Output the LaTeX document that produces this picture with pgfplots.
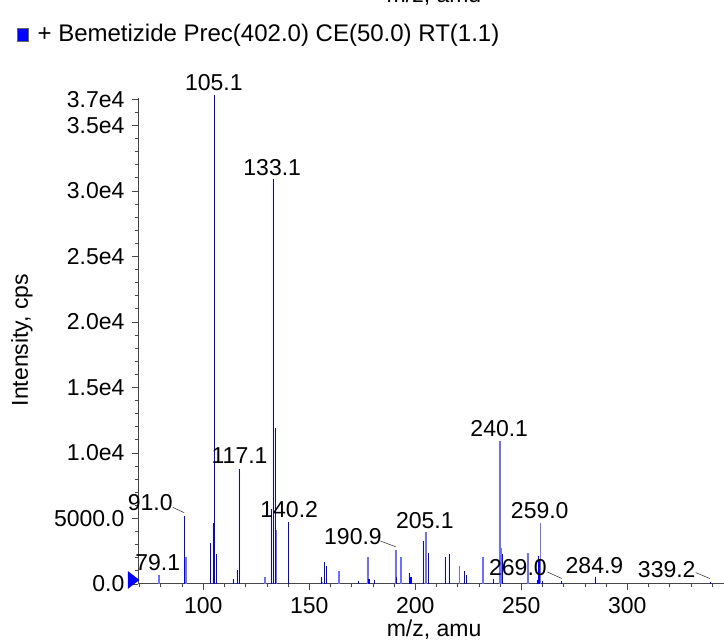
\documentclass[border=0pt]{standalone}
\usepackage{pgfplots}
\pgfplotsset{compat=1.18}
\usepackage{fontspec}
\setmainfont{Liberation Sans}

\definecolor{pklight}{RGB}{110,110,255}
\definecolor{axgray}{RGB}{70,70,70}

% spectrum peaks (m/z, intensity in cps)
\pgfplotstableread{
mz int
91.0 5200
103.3 3100
104.7 4650
105.1 37300
106.1 2300
114.2 380
116.0 1050
117.1 8780
132.1 5700
133.1 30900
134.1 11900
140.2 4700
155.7 500
157.1 1680
158.0 1370
173.1 200
178.2 400
180.8 300
191.1 500
197.2 850
198.0 530
203.8 3300
206.2 2400
214.2 2070
216.2 2300
223.1 1000
224.0 700
236.8 400
241.0 2270
257.6 300
258.2 2100
258.6 1800
260.1 200
269.0 200
284.9 500
339.2 180
}\peaksdark

\pgfplotstableread{
mz int
79.1 660
91.7 2060
129.0 500
129.3 500
134.5 4100
156.1 150
164.0 1000
177.8 2070
190.9 2600
193.4 2070
205.1 3950
220.9 1370
231.9 2070
240.1 10900
240.6 2770
253.0 2400
259.0 4630
}\peakslight

\begin{document}
\fontsize{23}{27}\selectfont
\begin{tikzpicture}
\path[use as bounding box] (0,0) rectangle (724pt,642pt);
\node[anchor=base] at (434pt,639pt) {m/z, amu};
\begin{axis}[
  at={(138.3pt,58pt)}, anchor=south west,
  scale only axis, width=585.7pt, height=486pt,
  xmin=69.34, xmax=345.6, ymin=0, ymax=37100,
  axis x line*=bottom, axis y line*=left,
  axis line style={axgray, line width=1pt},
  every tick/.style={axgray, line width=0.8pt},
  tick align=outside,
  major tick length=6pt, minor tick length=3.5pt,
  xtick={100,150,200,250,300},
  xticklabels={100,150,200,250,300},
  minor xtick={70,80,90,110,120,130,140,160,170,180,190,210,220,230,240,260,270,280,290,310,320,330,340},
  ytick={0,5000,10000,15000,20000,25000,30000,35000,37000},
  yticklabels={0.0,5000.0,1.0e4,1.5e4,2.0e4,2.5e4,3.0e4,3.5e4,3.7e4},
  minor ytick={31000,32000,33000,34000,36000,1000,2000,3000,4000,6000,7000,8000,9000,11000,12000,13000,14000,16000,17000,18000,19000,21000,22000,23000,24000,26000,27000,28000,29000},
  scaled y ticks=false,
  /pgf/number format/assume math mode=true,
  xlabel={m/z, amu},
  xlabel style={at={(axis description cs:0.505,-0.109)}, anchor=base},
  ylabel={Intensity, cps},
  ylabel style={at={(axis description cs:-0.1986,0.502)}, anchor=center, rotate=0},
  clip=false,
  legend style={at={(axis description cs:-0.2071,1.1307)}, anchor=west,
    draw=none, fill=none, inner sep=0pt, column sep=9pt,
    nodes={inner sep=0pt}, font=\fontsize{24}{28}\selectfont},
  legend cell align=left,
]
\addlegendimage{legend image code/.code={\draw[fill=blue,draw=black!60] (0pt,-6.5pt) rectangle (11pt,6.5pt);}}
\addlegendentry{+ Bemetizide Prec(402.0) CE(50.0) RT(1.1)}

\addplot[ycomb, draw=pklight, line width=1.7pt, forget plot] table[x=mz,y=int] {\peakslight};
\addplot[ycomb, draw=blue, line width=1.2pt, forget plot] table[x=mz,y=int] {\peaksdark};

% precursor marker on the axis
\addplot[only marks, mark=triangle*, mark size=9.8pt, forget plot,
  mark options={xshift=-6.6pt, yshift=4pt, rotate=-90, yscale=0.75, fill=blue, draw=blue}]
  coordinates {(69.34,0)};

% peak labels
\node at (axis cs:105.0,38280) {105.1};
\node at (axis cs:132.5,31800) {133.1};
\node at (axis cs:117.1,9770) {117.1};
\node at (axis cs:140.5,5650) {140.2};
\node at (axis cs:204.5,4830) {205.1};
\node at (axis cs:239.6,11900) {240.1};
\node at (axis cs:258.7,5600) {259.0};
\node at (axis cs:74.95,6180) {91.0};
\node at (axis cs:78.5,1640) {79.1};
\node at (axis cs:170.6,3630) {190.9};
\node at (axis cs:248.4,1220) {269.0};
\node at (axis cs:284.5,1430) {284.9};
\node at (axis cs:318.6,1110) {339.2};
\draw[black!75, line width=0.6pt] (axis cs:85.6,5850) -- (axis cs:91.0,5440);
\draw[black!75, line width=0.6pt] (axis cs:183.6,3280) -- (axis cs:190.75,2840);
\draw[black!75, line width=0.6pt] (axis cs:262.3,920) -- (axis cs:269.1,420);
\draw[black!75, line width=0.6pt] (axis cs:332.3,870) -- (axis cs:339.0,410);
\end{axis}
\end{tikzpicture}
\end{document}
